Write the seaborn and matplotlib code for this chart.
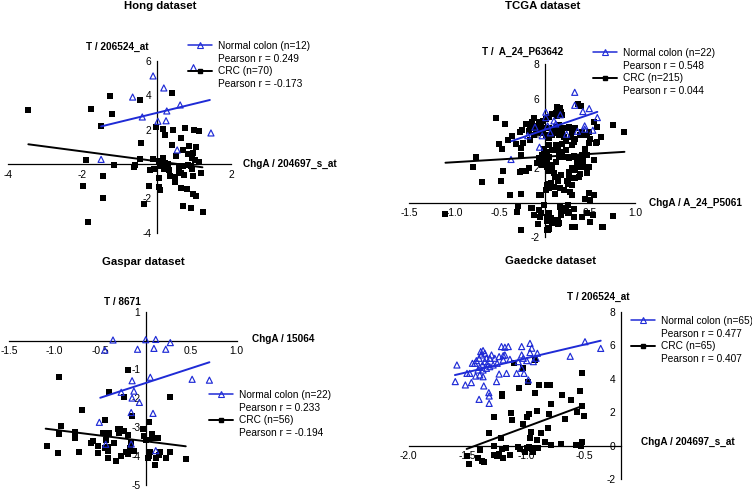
import numpy as np
import matplotlib
matplotlib.use('Agg')
import matplotlib.pyplot as plt
from matplotlib.lines import Line2D
import seaborn as sns

# ---------------- data ----------------
# Hong dataset
hong_normal = np.array([
    (-0.10, 5.13), (0.99, 5.61), (0.19, 4.43), (-0.65, 3.90), (0.63, 3.44), (0.27, 3.09),
    (-0.39, 2.74), (0.03, 2.49), (0.25, 2.52), (1.46, 1.81), (0.55, 0.82), (-1.50, 0.27)])
hong_crc = np.array([
    (-3.46, 3.17), (-1.76, 3.18), (-1.27, 3.96), (-1.20, 2.89), (-0.46, 3.71), (0.42, 4.12),
    (-1.49, 2.19), (-0.42, 1.22), (-1.92, 0.23), (-1.15, -0.06), (-0.58, -0.08), (-2.00, -1.28),
    (-1.45, -0.70), (-1.45, -2.00), (-1.86, -3.40), (-0.35, -2.31), (-0.20, -1.30), (-0.03, 2.17),
    (0.18, 2.06), (0.43, 1.96), (0.77, 2.10), (1.01, 2.00), (1.13, 1.92), (0.23, 1.67),
    (0.64, 1.50), (0.42, 1.11), (0.86, 1.05), (1.06, 0.99), (0.70, 0.80), (0.97, 0.66),
    (0.85, 0.58), (0.53, 0.47), (0.95, 0.37), (1.04, 0.21), (-0.09, 0.31), (0.18, 0.33),
    (1.15, 0.14), (-0.44, 0.27), (0.07, 0.16), (0.23, 0.08), (0.30, -0.02), (0.59, -0.10),
    (0.72, -0.10), (0.85, -0.06), (0.92, -0.10), (-0.60, -0.16), (0.12, -0.14), (-0.18, -0.33),
    (0.19, -0.29), (0.34, -0.33), (-0.08, -0.29), (0.95, -0.27), (0.59, -0.45), (0.65, -0.52),
    (0.74, -0.62), (1.19, -0.54), (0.35, -0.68), (0.07, -0.80), (0.97, -0.72), (0.48, -0.76),
    (0.50, -1.03), (0.05, -1.34), (0.66, -1.38), (0.81, -1.46), (0.10, -1.53), (0.98, -1.75),
    (1.06, -1.84), (0.71, -2.47), (0.92, -2.58), (1.24, -2.78)])
hong_normal_fit = np.array([(-1.50, 2.19), (1.43, 3.73)])
hong_crc_fit = np.array([(-3.46, 1.15), (1.23, -0.19)])
hong_n = (12, 70)
hong_r = (0.249, -0.173)

# TCGA dataset
tcga_normal = np.array([
    (0.33, 6.38), (0.33, 5.63), (0.42, 5.27), (0.49, 5.44), (0.58, 4.92), (0.01, 5.23),
    (0.01, 4.92), (0.17, 5.08), (0.10, 4.73), (-0.11, 4.37), (0.03, 4.44), (0.44, 4.44),
    (0.44, 4.25), (0.53, 4.19), (0.24, 3.96), (-0.03, 3.87), (0.06, 4.04), (-0.19, 3.87),
    (-0.06, 3.21), (-0.375, 2.50), (0.36, 4.13), (0.12, 4.55)])
tcga_crc = np.array([
    (-0.54, 4.88), (-0.44, 4.54), (-0.36, 3.85), (-0.41, 3.60), (-0.51, 3.37), (-0.47, 3.13),
    (-0.32, 3.37), (-0.28, 4.06), (-0.25, 4.23), (-0.21, 4.54), (-0.16, 4.48), (-0.18, 4.12),
    (-0.24, 3.46), (-0.26, 3.19), (-0.16, 3.60), (-0.26, 2.75), (-0.76, 2.63), (-0.79, 2.06),
    (-0.70, 1.17), (-0.49, 1.23), (-0.46, 1.81), (-0.28, 1.75), (-0.25, 1.81), (-0.21, 1.83),
    (-0.18, 2.02), (-0.39, 0.44), (-0.26, 0.50), (-0.30, -0.19), (-0.31, -0.52), (-0.15, -0.33),
    (-0.26, -1.56), (-1.10, -0.65),
    (-0.06, 0.44), (0.01, 0.73), (0.04, 1.06), (0.06, 1.02), (0.11, 0.50), (0.17, 0.83),
    (0.17, -0.27), (0.19, -0.38), (0.22, -0.35), (0.23, -0.48), (0.25, -0.58), (0.26, -0.13),
    (0.30, 0.44), (0.32, -0.38), (0.32, -1.38), (0.18, -0.73), (0.15, -1.00), (0.15, -1.23),
    (-0.06, -0.44), (-0.05, -0.81), (0.04, -0.62), (0.02, -1.06), (0.04, -1.54), (0.03, -1.58),
    (-0.08, -1.23), (0.44, 0.19), (0.50, 0.15), (0.53, -0.71), (0.64, -1.42), (0.75, -0.77),
    (0.75, 4.52), (0.88, 4.08), (0.62, 3.81), (0.57, 3.46), (0.54, 2.46), (0.42, 2.46),
    (0.42, 2.27), (0.49, 2.08), (0.33, 1.88), (0.37, 2.08), (0.39, 1.65), (0.29, 1.44),
    (0.33, 1.40), (0.25, 1.06), (0.24, 1.25), (0.15, 1.25), (0.11, 1.50), (0.09, 0.92),
    (0.03, 1.85), (0.08, 2.17), (0.02, 2.08), (-0.01, 2.27), (-0.04, 2.46), (0.17, 2.65),
    (0.22, 2.65), (0.26, 2.65), (0.32, 2.69), (0.35, 2.65), (0.42, 2.65), (0.14, 3.08),
    (0.18, 2.94), (0.16, 2.81), (0.41, 3.92), (0.49, 3.46), (0.44, 3.13), (0.32, 3.48),
    (0.30, 3.33), (0.37, 5.73), (0.40, 5.58),
    (0.136, 5.54), (0.162, 5.48), (0.147, 5.35), (0.125, 5.21), (0.081, 5.10), (0.173, 5.25),
    (0.191, 5.06), (0.136, 5.02), (0.044, 4.96), (0.007, 4.83), (-0.022, 4.71), (-0.066, 4.67),
    (-0.121, 4.87), (-0.140, 4.67), (-0.103, 4.44), (-0.048, 4.38), (-0.011, 4.29), (0.044, 4.29),
    (0.081, 4.19), (0.118, 4.38), (0.154, 4.48), (0.173, 4.29), (0.191, 4.10), (0.228, 4.29),
    (0.265, 4.38), (0.301, 4.10), (0.338, 4.29), (0.294, 3.81), (0.210, 3.81), (0.154, 3.90),
    (0.118, 4.00), (0.081, 3.90), (0.044, 3.75), (0.007, 3.90), (-0.029, 4.00), (-0.103, 4.10),
    (-0.158, 4.29), (-0.121, 3.90), (0.228, 3.56), (0.191, 3.42), (0.118, 3.33), (0.044, 3.33),
    (0.338, 3.71), (0.393, 3.90), (0.467, 3.90), (0.504, 3.71), (0.577, 3.52), (0.577, 4.38),
    (0.540, 4.67), (0.485, 4.10), (0.412, 4.10),
    (-0.011, 3.13), (0.026, 2.94), (-0.029, 2.75), (0.044, 2.65), (0.007, 2.46), (-0.066, 2.56),
    (-0.085, 2.27), (-0.029, 2.17), (0.026, 2.27), (0.081, 2.08), (0.118, 2.37), (0.154, 2.65),
    (0.191, 2.85), (0.228, 3.04), (0.136, 3.04), (0.081, 3.04), (0.265, 2.56), (0.301, 2.65),
    (0.338, 2.65), (0.412, 2.75), (0.467, 2.75), (0.357, 2.37), (0.412, 2.17), (0.301, 1.98),
    (0.265, 1.79), (0.173, 1.60), (0.099, 1.69), (0.063, 1.12), (0.026, 1.02), (0.044, 0.83),
    (0.099, 0.92), (0.265, 1.40), (0.301, 1.02), (0.283, 0.63), (0.210, 0.73), (0.375, 1.50),
    (0.430, 2.08), (0.467, 1.69), (0.485, 0.54), (0.540, 0.44), (-0.048, 0.44), (-0.011, -0.13),
    (-0.140, -0.33), (-0.121, -0.71), (-0.048, -0.62), (0.026, -0.81), (0.063, -0.90), (0.118, -1.00),
    (0.154, -1.19), (0.081, -1.19), (0.173, -0.42), (0.210, -0.33), (0.265, -0.52), (0.320, -0.81),
    (0.338, -1.38), (0.412, -0.81), (0.467, -0.62), (0.504, -1.10), (0.044, -1.48), (0.026, -1.58),
    (0.301, -1.38), (0.632, -1.38)])
tcga_normal_fit = np.array([(-0.37, 3.56), (0.58, 5.25)])
tcga_crc_fit = np.array([(-1.10, 2.31), (0.88, 2.94)])
tcga_n = (22, 215)
tcga_r = (0.548, 0.044)

# Gaspar dataset
gaspar_normal = np.array([
    (-0.36, 0.02), (0.00, 0.03), (0.11, 0.04), (0.27, -0.07), (-0.45, -0.33), (-0.09, -0.30),
    (0.09, -0.27), (0.22, -0.30), (0.05, -1.27), (-0.15, -1.39), (0.51, -1.34), (0.70, -1.37),
    (-0.27, -1.79), (-0.13, -1.75), (-0.15, -1.99), (-0.07, -2.14), (-0.16, -2.49), (0.08, -2.52),
    (-0.51, -2.83), (-0.44, -3.59), (-0.16, -3.58), (0.11, -3.81)])
gaspar_crc = np.array([
    (-0.95, -1.25), (-0.20, -1.01), (0.27, -1.94), (-0.40, -1.77), (-0.24, -1.97), (-0.70, -2.39),
    (-0.45, -2.76), (-0.15, -2.60), (0.04, -2.81), (-0.93, -2.96), (-0.95, -3.22), (-0.78, -3.15),
    (-0.78, -3.36), (-1.09, -3.66), (-0.96, -3.89), (-0.73, -3.87), (-0.58, -3.47), (-0.52, -3.65),
    (-0.52, -3.90), (-0.47, -3.19), (-0.44, -3.43), (-0.41, -3.69), (-0.42, -4.05), (-0.40, -3.21),
    (-0.33, -4.17), (-0.29, -3.19), (-0.28, -3.07), (-0.27, -4.01), (-0.24, -3.13), (-0.22, -3.87),
    (-0.19, -3.27), (-0.19, -3.93), (-0.17, -3.71), (-0.16, -3.50), (-0.03, -3.07), (-0.02, -3.32),
    (0.03, -4.08), (0.04, -4.00), (0.05, -3.87), (0.07, -3.24), (0.07, -3.36), (0.13, -3.39),
    (0.11, -4.08), (0.10, -4.31), (0.16, -3.85), (0.22, -4.08), (0.27, -3.85), (0.44, -4.09),
    (-0.45, -3.72), (-0.42, -3.83), (0.00, -3.45), (-0.35, -3.55), (-0.30, -3.05), (-0.13, -3.82),
    (0.15, -3.95), (-0.60, -3.55)])
gaspar_normal_fit = np.array([(-0.50, -1.98), (0.70, -0.75)])
gaspar_crc_fit = np.array([(-1.10, -3.05), (0.44, -3.66)])
gaspar_n = (22, 56)
gaspar_r = (0.233, -0.194)

# Gaedcke dataset
gaedcke_normal = np.array([
    (-1.589, 4.82), (-1.603, 3.83), (-1.517, 3.63), (-1.466, 3.77), (-1.503, 4.32), (-1.457, 4.92),
    (-1.423, 5.08), (-1.437, 4.92), (-1.400, 5.22), (-1.380, 5.42), (-1.366, 5.68), (-1.351, 5.52),
    (-1.386, 5.62), (-1.337, 5.22), (-1.294, 5.42), (-1.309, 5.22), (-1.331, 4.88), (-1.351, 5.02),
    (-1.371, 4.82), (-1.394, 4.68), (-1.409, 4.52), (-1.366, 4.52), (-1.337, 4.62), (-1.309, 4.72),
    (-1.280, 4.82), (-1.266, 5.22), (-1.229, 5.32), (-1.209, 5.92), (-1.180, 5.88), (-1.151, 5.92),
    (-1.194, 5.38), (-1.180, 5.42), (-1.037, 5.92), (-0.966, 6.11), (-0.951, 5.82), (-0.966, 5.56),
    (-1.037, 5.42), (-1.023, 5.22), (-0.994, 5.08), (-0.937, 5.02), (-0.914, 5.22), (-0.903, 5.52),
    (-1.229, 4.28), (-1.166, 4.32), (-1.080, 4.32), (-1.037, 4.62), (-1.017, 4.32), (-0.980, 3.93),
    (-1.251, 3.83), (-1.360, 3.57), (-1.317, 3.17), (-1.314, 2.97), (-1.314, 2.53), (-1.400, 2.77),
    (-1.394, 4.22), (-1.429, 4.16), (-1.366, 4.12), (-1.480, 4.32), (-1.246, 4.92), (-1.066, 5.02),
    (-1.194, 5.12), (-1.137, 5.16), (-0.623, 5.34), (-0.497, 6.21), (-0.363, 5.81)])
gaedcke_crc = np.array([
    (-1.103, 4.95), (-1.029, 4.62), (-0.926, 5.10), (-0.526, 4.34), (-1.063, 3.46), (-0.983, 3.79),
    (-0.886, 3.61), (-0.823, 3.63), (-0.797, 3.65), (-1.203, 3.07), (-1.206, 2.99), (-0.923, 3.13),
    (-0.691, 3.03), (-0.620, 2.73), (-0.540, 3.29), (-1.277, 1.74), (-1.129, 1.94), (-1.120, 1.54),
    (-0.989, 1.74), (-0.977, 1.90), (-1.023, 1.28), (-0.909, 2.10), (-0.786, 2.47), (-0.803, 1.88),
    (-0.814, 1.08), (-0.669, 1.58), (-0.563, 2.04), (-0.526, 2.35), (-0.506, 1.76), (-1.317, 0.74),
    (-1.214, 0.46), (-0.966, 0.48), (-0.954, 0.84), (-0.909, 0.35), (-0.871, 0.74), (-0.834, 0.25),
    (-0.700, 0.09), (-0.786, 0.05), (-0.577, 0.05), (-0.549, 0.05), (-0.523, 0.25), (-1.394, -0.25),
    (-1.486, -1.08), (-1.406, -0.71), (-1.377, -0.89), (-1.357, -0.97), (-1.506, -0.61), (-1.277, -0.03),
    (-1.271, -0.55), (-1.251, -0.59), (-1.234, -0.47), (-1.206, -0.19), (-1.200, -0.75), (-1.137, -0.55),
    (-1.071, -0.05), (-1.049, -0.19), (-1.011, -0.39), (-0.994, -0.11), (-0.977, -0.05), (-0.949, -0.19),
    (-0.937, -0.37), (-0.923, -0.11), (-0.894, -0.11), (-1.171, -0.15), (-0.529, -0.03)])
gaedcke_normal_fit = np.array([(-1.606, 4.22), (-0.363, 6.27)])
gaedcke_crc_fit = np.array([(-1.506, -0.19), (-0.514, 2.39)])
gaedcke_n = (65, 65)
gaedcke_r = (0.477, 0.407)

# ---------------- style ----------------
sns.set_theme(style='white', rc={
    'axes.edgecolor': 'black', 'text.color': 'black', 'xtick.color': 'black',
    'ytick.color': 'black', 'axes.unicode_minus': False})
plt.rcParams['font.family'] = ['Liberation Sans', 'DejaVu Sans']

BLUE = '#1f2bd6'
W, H = 752, 490


def fx(px):
    return px / W


def fy(py):
    return 1 - py / H


def painel(fig, rect, normal, crc, normal_fit, crc_fit, xlim, ylim, xticks, yticks,
           xfmt, ycross, n, r, title, title_xy, xlabel, xlabel_xy, ylabel, ylabel_xy, leg_xy):
    ax = fig.add_axes(rect)
    sns.scatterplot(x=crc[:, 0], y=crc[:, 1], ax=ax, marker='s', color='black',
                    s=14, linewidth=0, zorder=3, clip_on=False)
    sns.scatterplot(x=normal[:, 0], y=normal[:, 1], ax=ax, marker='^', facecolor='none',
                    edgecolor=BLUE, s=19, linewidth=0.85, zorder=4, clip_on=False)
    ax.plot(normal_fit[:, 0], normal_fit[:, 1], color=BLUE, lw=1.4, zorder=5)
    ax.plot(crc_fit[:, 0], crc_fit[:, 1], color='black', lw=1.4, zorder=5)

    ax.set_xlim(xlim)
    ax.set_ylim(ylim)
    ax.spines['top'].set_visible(False)
    ax.spines['right'].set_visible(False)
    ax.spines['left'].set_position(('data', ycross))
    ax.spines['bottom'].set_position(('data', 0))
    for s in ('left', 'bottom'):
        ax.spines[s].set_linewidth(0.9)
    ax.set_xticks(xticks)
    ax.set_xticklabels([xfmt.format(v) for v in xticks])
    ax.set_yticks(yticks)
    ax.set_yticklabels(['{:d}'.format(v) for v in yticks])
    ax.tick_params(direction='out', length=2.5, width=0.8, labelsize=7.4, pad=1.5)
    ax.set_xlabel('')
    ax.set_ylabel('')

    fig.text(fx(title_xy[0]), fy(title_xy[1]), title, fontsize=8.2, fontweight='bold',
             ha='center', va='center')
    fig.text(fx(xlabel_xy[0]), fy(xlabel_xy[1]), xlabel, fontsize=7.2, fontweight='bold',
             ha='left', va='center')
    fig.text(fx(ylabel_xy[0]), fy(ylabel_xy[1]), ylabel, fontsize=7.2, fontweight='bold',
             ha='center', va='center')

    h_normal = Line2D([0], [0], color=BLUE, lw=1.1, marker='^', markersize=3.8,
                      markerfacecolor='none', markeredgecolor=BLUE, markeredgewidth=0.8)
    h_crc = Line2D([0], [0], color='black', lw=1.4, marker='s', markersize=3.4)
    vazio = Line2D([], [], linestyle='none')
    fig.legend([h_normal, vazio, h_crc, vazio],
               [f'Normal colon (n={n[0]})', f'Pearson r = {r[0]:.3f}',
                f'CRC (n={n[1]})', f'Pearson r = {r[1]:.3f}'],
               loc='upper left', bbox_to_anchor=(fx(leg_xy[0]), fy(leg_xy[1])),
               frameon=False, fontsize=7.3, handlelength=2.4, handletextpad=0.55,
               labelspacing=0.26, borderpad=0, borderaxespad=0)
    return ax


fig = plt.figure(figsize=(7.52, 4.90), dpi=100)

painel(fig, [fx(8.3), fy(232.7), (231 - 8.3) / W, (232.7 - 61) / H],
       hong_normal, hong_crc, hong_normal_fit, hong_crc_fit,
       (-4, 2), (-4, 6), [-4, -2, 2], [-4, -2, 2, 4, 6], '{:d}', 0,
       hong_n, hong_r, 'Hong dataset', (160, 6), 'ChgA / 204697_s_at', (243, 164),
       'T / 206524_at', (117.5, 47), (188, 41))

painel(fig, [fx(409.3), fy(237.3), (635.3 - 409.3) / W, (237.3 - 64.3) / H],
       tcga_normal, tcga_crc, tcga_normal_fit, tcga_crc_fit,
       (-1.5, 1.0), (-2, 8), [-1.5, -1.0, -0.5, 0.5, 1.0], [-2, 2, 4, 6, 8], '{:.1f}', 0,
       tcga_n, tcga_r, 'TCGA dataset', (543, 6), 'ChgA / A_24_P5061', (649, 203),
       'T /  A_24_P63642', (523, 52), (593, 48))

painel(fig, [fx(9.3), fy(485), (236.7 - 9.3) / W, (485 - 311.7) / H],
       gaspar_normal, gaspar_crc, gaspar_normal_fit, gaspar_crc_fit,
       (-1.5, 1.0), (-5, 1), [-1.5, -1.0, -0.5, 0.5, 1.0], [-5, -4, -3, -2, -1, 1], '{:.1f}', 0,
       gaspar_n, gaspar_r, 'Gaspar dataset', (143, 262), 'ChgA / 15064', (252, 339),
       'T / 8671', (122.7, 302), (209, 390))

painel(fig, [fx(408.7), fy(479.3), (621 - 408.7) / W, (479.3 - 311.7) / H],
       gaedcke_normal, gaedcke_crc, gaedcke_normal_fit, gaedcke_crc_fit,
       (-2.0, -0.19), (-2, 8), [-2.0, -1.5, -1.0, -0.5], [-2, 0, 2, 4, 6, 8], '{:.1f}', -0.19,
       gaedcke_n, gaedcke_r, 'Gaedcke dataset', (551, 261), 'ChgA / 204697_s_at', (641, 442),
       'T / 206524_at', (598.5, 297), (631, 316))

fig.savefig('out.png', dpi=100)
